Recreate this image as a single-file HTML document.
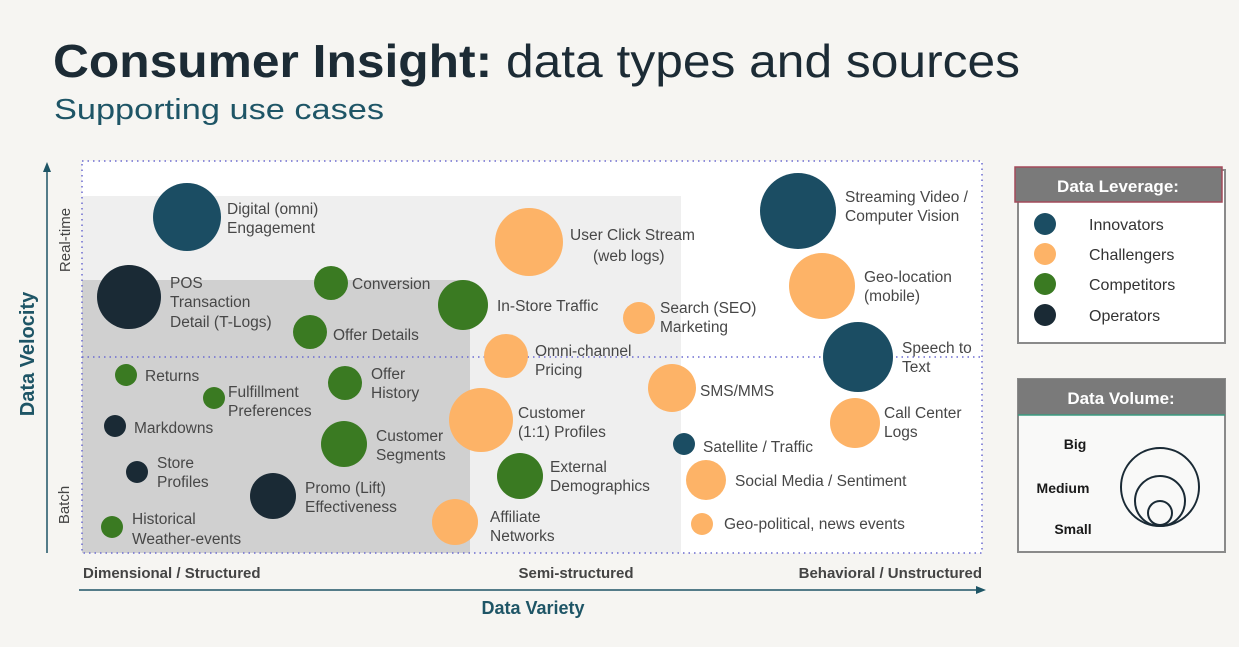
<!DOCTYPE html>
<html><head><meta charset="utf-8"><style>
html,body{margin:0;padding:0;background:#f6f5f2;}
svg{display:block;}
text{font-family:"Liberation Sans",sans-serif;}
.l{font-size:15.5px;fill:#474747;}
</style></head><body>
<svg width="1239" height="647" viewBox="0 0 1239 647" xmlns="http://www.w3.org/2000/svg">
<rect width="1239" height="647" fill="#f6f5f2"/>
<text x="53" y="77" font-size="46" fill="#1c2b35" textLength="967" lengthAdjust="spacingAndGlyphs"><tspan font-weight="bold">Consumer Insight:</tspan> data types and sources</text>
<text x="54" y="119" font-size="29" fill="#1e5566" textLength="330" lengthAdjust="spacingAndGlyphs">Supporting use cases</text>

<rect x="82" y="161" width="900" height="392" fill="#ffffff"/>
<rect x="82" y="196" width="599" height="357" fill="#efefef"/>
<rect x="82" y="280" width="388" height="273" fill="#d0d0d0"/>
<rect x="82" y="161" width="900" height="392" fill="none" stroke="#6b6bd0" stroke-width="1.5" stroke-dasharray="1.5,4"/>
<line x1="82" y1="357" x2="982" y2="357" stroke="#6b6bd0" stroke-width="1.5" stroke-dasharray="1.5,4"/>

<line x1="47" y1="553" x2="47" y2="170" stroke="#1e5566" stroke-width="1.5"/>
<polygon points="47,162 43,172 51,172" fill="#1e5566"/>
<line x1="79" y1="590" x2="978" y2="590" stroke="#1e5566" stroke-width="1.5"/>
<polygon points="986,590 976,586 976,594" fill="#1e5566"/>
<text transform="translate(34,354) rotate(-90)" text-anchor="middle" font-size="20" font-weight="bold" fill="#1e5566">Data Velocity</text>
<text transform="translate(70,240) rotate(-90)" text-anchor="middle" font-size="15" fill="#444">Real-time</text>
<text transform="translate(69,505) rotate(-90)" text-anchor="middle" font-size="15" fill="#444">Batch</text>
<text x="533" y="614" text-anchor="middle" font-size="18" font-weight="bold" fill="#1e5566">Data Variety</text>
<text x="83" y="578" font-size="15" font-weight="bold" fill="#444">Dimensional / Structured</text>
<text x="576" y="578" text-anchor="middle" font-size="15" font-weight="bold" fill="#444">Semi-structured</text>
<text x="982" y="578" text-anchor="end" font-size="15" font-weight="bold" fill="#444">Behavioral / Unstructured</text>

<g>
<circle cx="187" cy="217" r="34" fill="#1b4d63"/>
<circle cx="129" cy="297" r="32" fill="#1a2a35"/>
<circle cx="331" cy="283" r="17" fill="#3a7a22"/>
<circle cx="310" cy="332" r="17" fill="#3a7a22"/>
<circle cx="126" cy="375" r="11" fill="#3a7a22"/>
<circle cx="214" cy="398" r="11" fill="#3a7a22"/>
<circle cx="345" cy="383" r="17" fill="#3a7a22"/>
<circle cx="115" cy="426" r="11" fill="#1a2a35"/>
<circle cx="344" cy="444" r="23" fill="#3a7a22"/>
<circle cx="137" cy="472" r="11" fill="#1a2a35"/>
<circle cx="273" cy="496" r="23" fill="#1a2a35"/>
<circle cx="112" cy="527" r="11" fill="#3a7a22"/>
<circle cx="529" cy="242" r="34" fill="#fdb367"/>
<circle cx="463" cy="305" r="25" fill="#3a7a22"/>
<circle cx="639" cy="318" r="16" fill="#fdb367"/>
<circle cx="506" cy="356" r="22" fill="#fdb367"/>
<circle cx="481" cy="420" r="32" fill="#fdb367"/>
<circle cx="520" cy="476" r="23" fill="#3a7a22"/>
<circle cx="455" cy="522" r="23" fill="#fdb367"/>
<circle cx="672" cy="388" r="24" fill="#fdb367"/>
<circle cx="684" cy="444" r="11" fill="#1b4d63"/>
<circle cx="706" cy="480" r="20" fill="#fdb367"/>
<circle cx="702" cy="524" r="11" fill="#fdb367"/>
<circle cx="798" cy="211" r="38" fill="#1b4d63"/>
<circle cx="822" cy="286" r="33" fill="#fdb367"/>
<circle cx="858" cy="357" r="35" fill="#1b4d63"/>
<circle cx="855" cy="423" r="25" fill="#fdb367"/>
</g>

<g>
<text class="l" x="227" y="214">Digital (omni)</text>
<text class="l" x="227" y="233">Engagement</text>
<text class="l" x="170" y="288">POS</text>
<text class="l" x="170" y="307">Transaction</text>
<text class="l" x="170" y="327">Detail (T-Logs)</text>
<text class="l" x="352" y="289">Conversion</text>
<text class="l" x="333" y="340">Offer Details</text>
<text class="l" x="145" y="381">Returns</text>
<text class="l" x="228" y="397">Fulfillment</text>
<text class="l" x="228" y="416">Preferences</text>
<text class="l" x="371" y="379">Offer</text>
<text class="l" x="371" y="398">History</text>
<text class="l" x="134" y="433">Markdowns</text>
<text class="l" x="376" y="441">Customer</text>
<text class="l" x="376" y="460">Segments</text>
<text class="l" x="157" y="468">Store</text>
<text class="l" x="157" y="487">Profiles</text>
<text class="l" x="305" y="493">Promo (Lift)</text>
<text class="l" x="305" y="512">Effectiveness</text>
<text class="l" x="132" y="524">Historical</text>
<text class="l" x="132" y="544">Weather-events</text>
<text class="l" x="570" y="240">User Click Stream</text>
<text class="l" x="593" y="261">(web logs)</text>
<text class="l" x="497" y="311">In-Store Traffic</text>
<text class="l" x="660" y="313">Search (SEO)</text>
<text class="l" x="660" y="332">Marketing</text>
<text class="l" x="535" y="356">Omni-channel</text>
<text class="l" x="535" y="375">Pricing</text>
<text class="l" x="518" y="418">Customer</text>
<text class="l" x="518" y="437">(1:1) Profiles</text>
<text class="l" x="550" y="472">External</text>
<text class="l" x="550" y="491">Demographics</text>
<text class="l" x="490" y="522">Affiliate</text>
<text class="l" x="490" y="541">Networks</text>
<text class="l" x="700" y="396">SMS/MMS</text>
<text class="l" x="703" y="452">Satellite / Traffic</text>
<text class="l" x="735" y="486">Social Media / Sentiment</text>
<text class="l" x="724" y="529">Geo-political, news events</text>
<text class="l" x="845" y="202">Streaming Video /</text>
<text class="l" x="845" y="221">Computer Vision</text>
<text class="l" x="864" y="282">Geo-location</text>
<text class="l" x="864" y="301">(mobile)</text>
<text class="l" x="902" y="353">Speech to</text>
<text class="l" x="902" y="372">Text</text>
<text class="l" x="884" y="418">Call Center</text>
<text class="l" x="884" y="437">Logs</text>
</g>

<rect x="1018" y="170" width="207" height="173" fill="#ffffff" stroke="#8a8a8a" stroke-width="2"/>
<rect x="1015" y="167" width="207" height="35" fill="#7a7a7a" stroke="#a34a5a" stroke-width="1.5"/>
<text x="1118" y="192" text-anchor="middle" font-size="17" font-weight="bold" fill="#fff">Data Leverage:</text>
<circle cx="1045" cy="224" r="11" fill="#1b4d63"/>
<circle cx="1045" cy="254" r="11" fill="#fdb367"/>
<circle cx="1045" cy="284" r="11" fill="#3a7a22"/>
<circle cx="1045" cy="315" r="11" fill="#1a2a35"/>
<text x="1089" y="230" font-size="16" fill="#333">Innovators</text>
<text x="1089" y="260" font-size="16" fill="#333">Challengers</text>
<text x="1089" y="290" font-size="16" fill="#333">Competitors</text>
<text x="1089" y="321" font-size="16" fill="#333">Operators</text>

<rect x="1018" y="379" width="207" height="173" fill="#f9f9f8" stroke="#8a8a8a" stroke-width="2"/>
<rect x="1018" y="379" width="207" height="36" fill="#7a7a7a"/>
<line x1="1018" y1="415" x2="1225" y2="415" stroke="#3a9a80" stroke-width="1.5"/>
<text x="1121" y="404" text-anchor="middle" font-size="17" font-weight="bold" fill="#fff">Data Volume:</text>
<text x="1075" y="449" text-anchor="middle" font-size="14" font-weight="bold" fill="#1a1a1a">Big</text>
<text x="1063" y="493" text-anchor="middle" font-size="14" font-weight="bold" fill="#1a1a1a">Medium</text>
<text x="1073" y="534" text-anchor="middle" font-size="14" font-weight="bold" fill="#1a1a1a">Small</text>
<circle cx="1160" cy="487" r="39" fill="none" stroke="#1a2a35" stroke-width="2"/>
<circle cx="1160" cy="501" r="25" fill="none" stroke="#1a2a35" stroke-width="2"/>
<circle cx="1160" cy="513" r="12" fill="none" stroke="#1a2a35" stroke-width="2"/>
</svg>
</body></html>
